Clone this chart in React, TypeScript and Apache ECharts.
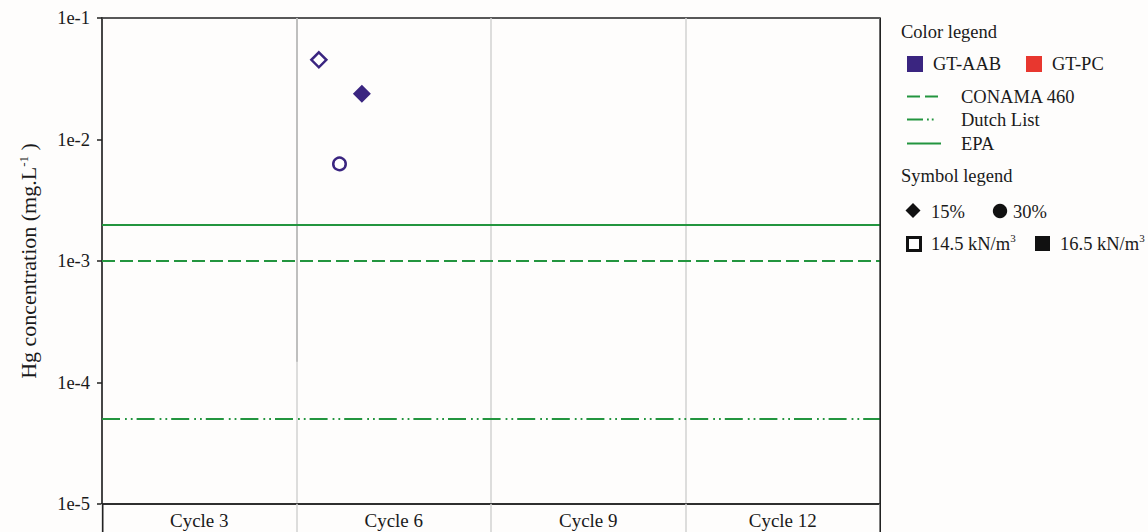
import React, { useEffect, useRef } from 'react';
import * as echarts from 'echarts';

// Category bands along the x axis
const cycles = ['Cycle 3', 'Cycle 6', 'Cycle 9', 'Cycle 12'];

// Range of the log axis (mg/L)
const yMin = 1e-5;
const yMax = 1e-1;

// GT-AAB leaching results (mg/L); slot = horizontal position inside the cycle band
const aabCycle = ['Cycle 6', 'Cycle 6', 'Cycle 6'];
const aabSlot = [0.115, 0.221, 0.336];
const aabValue = [0.0453, 0.0063, 0.0238];
const aabContent = ['15%', '30%', '15%'];
const aabWeight = ['14.5', '14.5', '16.5'];

// Regulatory limits (mg/L)
const CONAMA_460 = 0.001;
const DUTCH_LIST = 0.00005;
const EPA = 0.002;

const FONT = 'Liberation Serif, serif';
const PURPLE = '#3a2580';
const RED = '#e8372f';
const GREEN = '#23953f';
const INK = '#1a1a1a';

const GRID = { left: 102, right: 268, top: 18, bottom: 28 };

function buildOption(): echarts.EChartsCoreOption {
  const points = aabValue.map((v, i) => {
    const x = cycles.indexOf(aabCycle[i]) + aabSlot[i];
    const diamond = aabContent[i] === '15%';
    const filled = aabWeight[i] === '16.5';
    return {
      value: [x, v],
      symbol: diamond ? 'diamond' : 'circle',
      symbolSize: diamond ? (filled ? 18 : 15) : 12.5,
      itemStyle: {
        color: filled ? PURPLE : '#ffffff',
        borderColor: PURPLE,
        borderWidth: filled ? 0 : 2.5,
        opacity: 1,
      },
    };
  });

  // Horizontal limit line spanning all cycle bands
  const limitLine = (name: string, value: number, type: any) => ({
    name,
    type: 'line',
    xAxisIndex: 1,
    data: [],
    silent: true,
    markLine: {
      silent: true,
      symbol: 'none',
      label: { show: false },
      lineStyle: { color: GREEN, width: 1.8, type, opacity: 1 },
      data: [[{ coord: [0, value] }, { coord: [cycles.length, value] }]],
    },
  });

  const legendText = (x: number, y: number, text: string, extra: any = {}) => ({
    type: 'text',
    x,
    y,
    style: {
      text,
      fontFamily: FONT,
      fontSize: 18.5,
      fill: INK,
      verticalAlign: 'middle',
      ...extra,
    },
  });

  const supRich = {
    sup: { fontSize: 11, fontFamily: FONT, fill: INK, verticalAlign: 'top', padding: [0, 0, 12, 0] },
  };

  return {
    animation: false,
    backgroundColor: '#fefdfc',
    textStyle: { fontFamily: FONT },
    grid: {
      ...GRID,
      show: true,
      borderColor: '#222',
      borderWidth: 1.5,
      backgroundColor: 'transparent',
    },
    xAxis: [
      {
        type: 'category',
        data: cycles,
        boundaryGap: true,
        position: 'bottom',
        axisLine: { show: true, lineStyle: { color: '#222', width: 1.5 } },
        axisTick: { show: true, length: 28, lineStyle: { color: '#d2d2d2', width: 1.5 } },
        axisLabel: { fontFamily: FONT, fontSize: 19, color: INK, margin: 7 },
        splitLine: { show: true, interval: 0, lineStyle: { color: '#d2d2d2', width: 1.5 } },
      },
      { type: 'value', min: 0, max: cycles.length, show: false },
    ],
    yAxis: {
      type: 'log',
      logBase: 10,
      min: yMin,
      max: yMax,
      axisLine: { show: true, lineStyle: { color: '#222', width: 1.5 } },
      axisTick: { show: true, length: 5, lineStyle: { color: '#222', width: 1.5 } },
      axisLabel: {
        fontFamily: FONT,
        fontSize: 18.5,
        color: INK,
        margin: 12,
        formatter: (v: number) => `1e${Math.round(Math.log10(v))}`,
      },
      splitLine: { show: false },
      minorTick: { show: false },
      name: 'Hg concentration (mg.L{sup|-1} )',
      nameLocation: 'middle',
      nameRotate: 90,
      nameGap: 62,
      nameTextStyle: {
        fontFamily: FONT,
        fontSize: 22,
        color: INK,
        rich: { sup: { fontSize: 13, fontFamily: FONT, color: INK, verticalAlign: 'top', padding: [0, 0, 10, 0] } },
      },
    },
    series: [
      {
        name: 'grid accent',
        type: 'line',
        xAxisIndex: 1,
        data: [],
        silent: true,
        markLine: {
          silent: true,
          symbol: 'none',
          label: { show: false },
          lineStyle: { color: '#b4b4b4', width: 1.5, type: 'solid' },
          data: [[{ coord: [1, yMax] }, { coord: [1, 0.000148] }]],
        },
      },
      limitLine('EPA', EPA, 'solid'),
      limitLine('CONAMA 460', CONAMA_460, [13, 5]),
      limitLine('Dutch List', DUTCH_LIST, [18, 5, 1.8, 4, 1.8, 4]),
      {
        name: 'GT-AAB',
        type: 'scatter',
        xAxisIndex: 1,
        data: points,
        z: 5,
      },
    ],
    graphic: [
      // frame extensions below the x axis
      { type: 'line', z: 100, shape: { x1: 102.75, y1: 504, x2: 102.75, y2: 532 }, style: { stroke: '#222', lineWidth: 1.5 } },
      { type: 'line', z: 100, shape: { x1: 880.25, y1: 18, x2: 880.25, y2: 532 }, style: { stroke: '#222', lineWidth: 1.5 } },

      // colour legend
      legendText(901, 32, 'Color legend'),
      { type: 'rect', shape: { x: 907, y: 56, width: 16, height: 16 }, style: { fill: PURPLE } },
      legendText(933, 64, 'GT-AAB'),
      { type: 'rect', shape: { x: 1026, y: 56, width: 16, height: 16 }, style: { fill: RED } },
      legendText(1052, 64, 'GT-PC'),
      { type: 'line', shape: { x1: 907, y1: 96.5, x2: 939, y2: 96.5 }, style: { stroke: GREEN, lineWidth: 1.8, lineDash: [13, 5] } },
      legendText(961, 97, 'CONAMA 460'),
      { type: 'line', shape: { x1: 907, y1: 119.5, x2: 935, y2: 119.5 }, style: { stroke: GREEN, lineWidth: 1.8, lineDash: [16, 4, 1.8, 3, 1.8, 8] } },
      legendText(961, 120, 'Dutch List'),
      { type: 'line', shape: { x1: 907, y1: 143.5, x2: 941, y2: 143.5 }, style: { stroke: GREEN, lineWidth: 1.8 } },
      legendText(961, 144, 'EPA'),

      // symbol legend
      legendText(901, 176, 'Symbol legend'),
      { type: 'polygon', shape: { points: [[913, 203], [920.5, 210.5], [913, 218], [905.5, 210.5]] }, style: { fill: '#111' } },
      legendText(931, 212, '15%'),
      { type: 'circle', shape: { cx: 1000, cy: 211, r: 7.2 }, style: { fill: '#111' } },
      legendText(1013, 212, '30%'),
      { type: 'rect', shape: { x: 907.5, y: 237.5, width: 13, height: 13 }, style: { fill: '#fff', stroke: '#111', lineWidth: 3 } },
      legendText(931, 244, '14.5 kN/m{sup|3}', { rich: supRich }),
      { type: 'rect', shape: { x: 1035, y: 236, width: 15, height: 15 }, style: { fill: '#111' } },
      legendText(1060, 244, '16.5 kN/m{sup|3}', { rich: supRich }),
    ],
  };
}

export default function App() {
  const ref = useRef<HTMLDivElement>(null);

  useEffect(() => {
    if (!ref.current) return;
    const chart = echarts.init(ref.current, undefined, { renderer: 'svg' });
    chart.setOption(buildOption());
    return () => chart.dispose();
  }, []);

  return (
    <div
      ref={ref}
      style={{ position: 'fixed', left: 0, top: 0, width: 1148, height: 532, background: '#fefdfc' }}
    />
  );
}
